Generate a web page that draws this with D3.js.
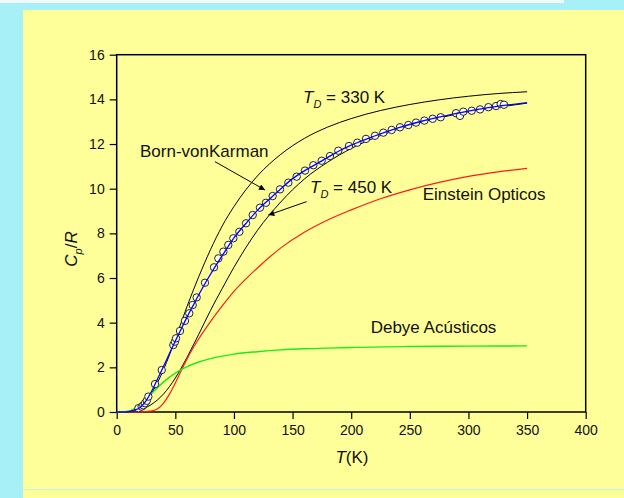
<!DOCTYPE html>
<html>
<head>
<meta charset="utf-8">
<script src="https://cdn.jsdelivr.net/npm/d3@7"></script>
<style>
  body { margin: 0; background: #a8f0f8; }
  svg { display: block; font-family: "Liberation Sans", Arial, sans-serif; }
</style>
</head>
<body>
<script>
	// curvas teoricas
	var debyeT = [0,10,20,30,40,50,60,70,80,90,100,120,140,160,180,200,225,250,275,300,325,350]
	var debye330 = [0,0.03,0.26,0.86,1.9,3.27,4.73,6.06,7.27,8.33,9.2,10.57,11.54,12.25,12.76,13.14,13.5,13.77,13.98,14.14,14.26,14.34]
	var debye450 = [0,0.01,0.1,0.35,0.81,1.52,2.45,3.48,4.55,5.53,6.48,8.13,9.41,10.43,11.19,11.8,12.38,12.83,13.17,13.44,13.65,13.83]

	var acusT = [0,10,15,20,25,30,40,50,60,70,80,90,100,120,140,160,180,200,250,300,350]
	var acusticos = [0,0.04,0.15,0.33,0.57,0.84,1.35,1.74,2.03,2.24,2.39,2.5,2.59,2.7,2.78,2.83,2.86,2.89,2.93,2.95,2.96]

	var optT = [0,20,25,30,35,40,45,50,55,60,70,80,90,100,110,120,140,160,180,200,225,250,275,300,325,350]
	var opticos = [0,0,0.02,0.05,0.15,0.4,0.8,1.3,1.85,2.38,3.28,4.05,4.75,5.4,5.95,6.45,7.35,8.05,8.6,9.05,9.55,9.95,10.28,10.55,10.75,10.91]

	var bvkT = [0,10,15,20,25,30,35,40,45,50,55,60,65,70,75,80,90,100,110,120,130,140,150,160,170,180,190,200,220,240,260,280,300,320,340,350]
	var bvk = [0,0.02,0.08,0.2,0.5,0.95,1.5,2.05,2.62,3.18,3.72,4.25,4.75,5.25,5.72,6.17,7.0,7.8,8.43,9.03,9.52,10.0,10.45,10.8,11.1,11.4,11.7,11.95,12.36,12.72,13.02,13.26,13.47,13.65,13.79,13.85]

	// datos experimentales
	var expT = [18.5,21.3,22.7,24.1,25.6,27,32.7,38.4,48.3,49.7,50.6,54,58.2,61.9,64.8,68.2,75.3,83,86.7,91,95.2,99.5,104.6,110.3,116,122.2,127.3,133,139.3,146.4,153.5,160.6,167.7,174.8,181.9,189,198.1,205.2,212.6,220.3,227.4,234.5,241.6,248.7,255.3,262.4,269.5,276.3,289.4,292.8,295.6,302.8,309.9,317,323.5,327.5,330.3]
	var expCp = [0.17,0.24,0.3,0.39,0.5,0.69,1.25,1.88,3.0,3.15,3.3,3.63,4.08,4.42,4.79,5.13,5.79,6.48,6.88,7.18,7.48,7.78,8.07,8.45,8.82,9.15,9.37,9.67,9.97,10.27,10.54,10.81,11.05,11.25,11.46,11.7,11.91,12.06,12.23,12.37,12.51,12.63,12.75,12.85,12.96,13.05,13.13,13.2,13.38,13.26,13.45,13.49,13.55,13.65,13.7,13.79,13.76]

	var xTicks = [0,50,100,150,200,250,300,350,400]
	var yTicks = [0,2,4,6,8,10,12,14,16]

	var width = 624, height = 498

	var svg = d3.select("body").append("svg")
		.attr("width", width)
		.attr("height", height)

	// fondo
	svg.append("rect").attr("x", 0).attr("y", 0).attr("width", 564).attr("height", 3).attr("fill", "#f2fbfb")
	svg.append("rect").attr("x", 23).attr("y", 10).attr("width", width - 23).attr("height", height - 10).attr("fill", "#ffff99")
	svg.append("line").attr("x1", 23).attr("x2", width).attr("y1", 489.5).attr("y2", 489.5)
		.attr("stroke", "#c4f2ea").attr("stroke-width", 1)

	var x = d3.scaleLinear().domain([0, 400]).range([116.7, 585.7])
	var y = d3.scaleLinear().domain([0, 16]).range([412, 54.7])

	var defs = svg.append("defs")
	defs.append("marker")
		.attr("id", "flecha")
		.attr("viewBox", "0 0 10 10")
		.attr("refX", 10).attr("refY", 5)
		.attr("markerWidth", 9).attr("markerHeight", 6)
		.attr("markerUnits", "userSpaceOnUse")
		.attr("orient", "auto")
		.append("path").attr("d", "M0,0 L10,5 L0,10 z").attr("fill", "black")

	// ejes
	var gx = svg.append("g").attr("transform", "translate(0," + y(0) + ")")
	gx.call(d3.axisBottom(x).tickValues(d3.range(25, 400, 50)).tickSize(4).tickFormat(""))
	gx.call(d3.axisBottom(x).tickValues(xTicks).tickSize(7).tickPadding(6))
	var gy = svg.append("g").attr("transform", "translate(" + x(0) + ",0)")
	gy.call(d3.axisLeft(y).tickValues(d3.range(1, 16, 2)).tickSize(4).tickFormat(""))
	gy.call(d3.axisLeft(y).tickValues(yTicks).tickSize(7).tickPadding(5))
	svg.selectAll(".domain").remove()
	svg.selectAll(".tick line").attr("stroke", "black").attr("stroke-width", 1.2)
	svg.selectAll(".tick text").attr("font-size", 14).attr("font-family", "Liberation Sans, Arial, sans-serif").attr("fill", "#111")

	svg.append("rect")
		.attr("x", x(0)).attr("y", y(16))
		.attr("width", x(400) - x(0)).attr("height", y(0) - y(16))
		.attr("fill", "none").attr("stroke", "black").attr("stroke-width", 1.5)

	var line = d3.line()
		.x(function(d){ return x(d[0]) })
		.y(function(d){ return y(d[1]) })
		.curve(d3.curveMonotoneX)

	var series = [
		{ t: debyeT, v: debye330, color: "black", w: 1 },
		{ t: debyeT, v: debye450, color: "black", w: 1 },
		{ t: optT, v: opticos, color: "#ff1a1a", w: 1.2 },
		{ t: acusT, v: acusticos, color: "#19ec19", w: 1.4 }
	]
	series.forEach(function(s) {
		svg.append("path")
			.datum(d3.zip(s.t, s.v))
			.attr("d", line)
			.attr("fill", "none")
			.attr("stroke", s.color)
			.attr("stroke-width", s.w)
	})

	svg.selectAll("circle.exp")
		.data(d3.zip(expT, expCp))
		.enter()
		.append("circle")
		.attr("class", "exp")
		.attr("cx", function(d){ return x(d[0]) })
		.attr("cy", function(d){ return y(d[1]) })
		.attr("r", 3.7)
		.attr("fill", "white")
		.attr("stroke", "#222")
		.attr("stroke-width", 1)

	svg.append("path")
		.datum(d3.zip(bvkT, bvk))
		.attr("d", line)
		.attr("fill", "none")
		.attr("stroke", "#0000ff")
		.attr("stroke-width", 1.3)

	// textos
	var txt = function(t, v, size) {
		return svg.append("text")
			.attr("x", x(t)).attr("y", y(v))
			.attr("font-size", size).attr("fill", "#111")
	}
	var td = function(t, v, val) {
		var e = txt(t, v, 17)
		e.append("tspan").attr("font-style", "italic").text("T")
		e.append("tspan").attr("font-style", "italic").attr("font-size", 11).attr("dy", 5).text("D")
		e.append("tspan").attr("dy", -5).text(" = " + val + " K")
	}
	td(158.9, 13.85, "330")
	td(164.9, 9.79, "450")
	txt(19.9, 11.42, 17).text("Born-vonKarman")
	txt(261, 9.49, 17).text("Einstein Opticos")
	txt(216.6, 3.52, 17).text("Debye Acústicos")

	var flechas = [
		{ from: [83.8, 11.21], to: [126.5, 9.94] },
		{ from: [162, 9.42], to: [129.3, 8.82] }
	]
	flechas.forEach(function(f) {
		svg.append("line")
			.attr("x1", x(f.from[0])).attr("y1", y(f.from[1]))
			.attr("x2", x(f.to[0])).attr("y2", y(f.to[1]))
			.attr("stroke", "black").attr("stroke-width", 1)
			.attr("marker-end", "url(#flecha)")
	})

	// titulos de ejes
	var xt = svg.append("text").attr("x", 352).attr("y", 463)
		.attr("text-anchor", "middle").attr("font-size", 17).attr("fill", "#111")
	xt.append("tspan").attr("font-style", "italic").text("T")
	xt.append("tspan").text("(K)")

	var yt = svg.append("text")
		.attr("transform", "translate(77,249) rotate(-90)")
		.attr("text-anchor", "middle").attr("font-size", 17).attr("fill", "#111")
	yt.append("tspan").attr("font-style", "italic").text("C")
	yt.append("tspan").attr("font-style", "italic").attr("font-size", 11).attr("dy", 5).text("p")
	yt.append("tspan").attr("dy", -5).text("/")
	yt.append("tspan").attr("font-style", "italic").text("R")
</script>
</body>
</html>
